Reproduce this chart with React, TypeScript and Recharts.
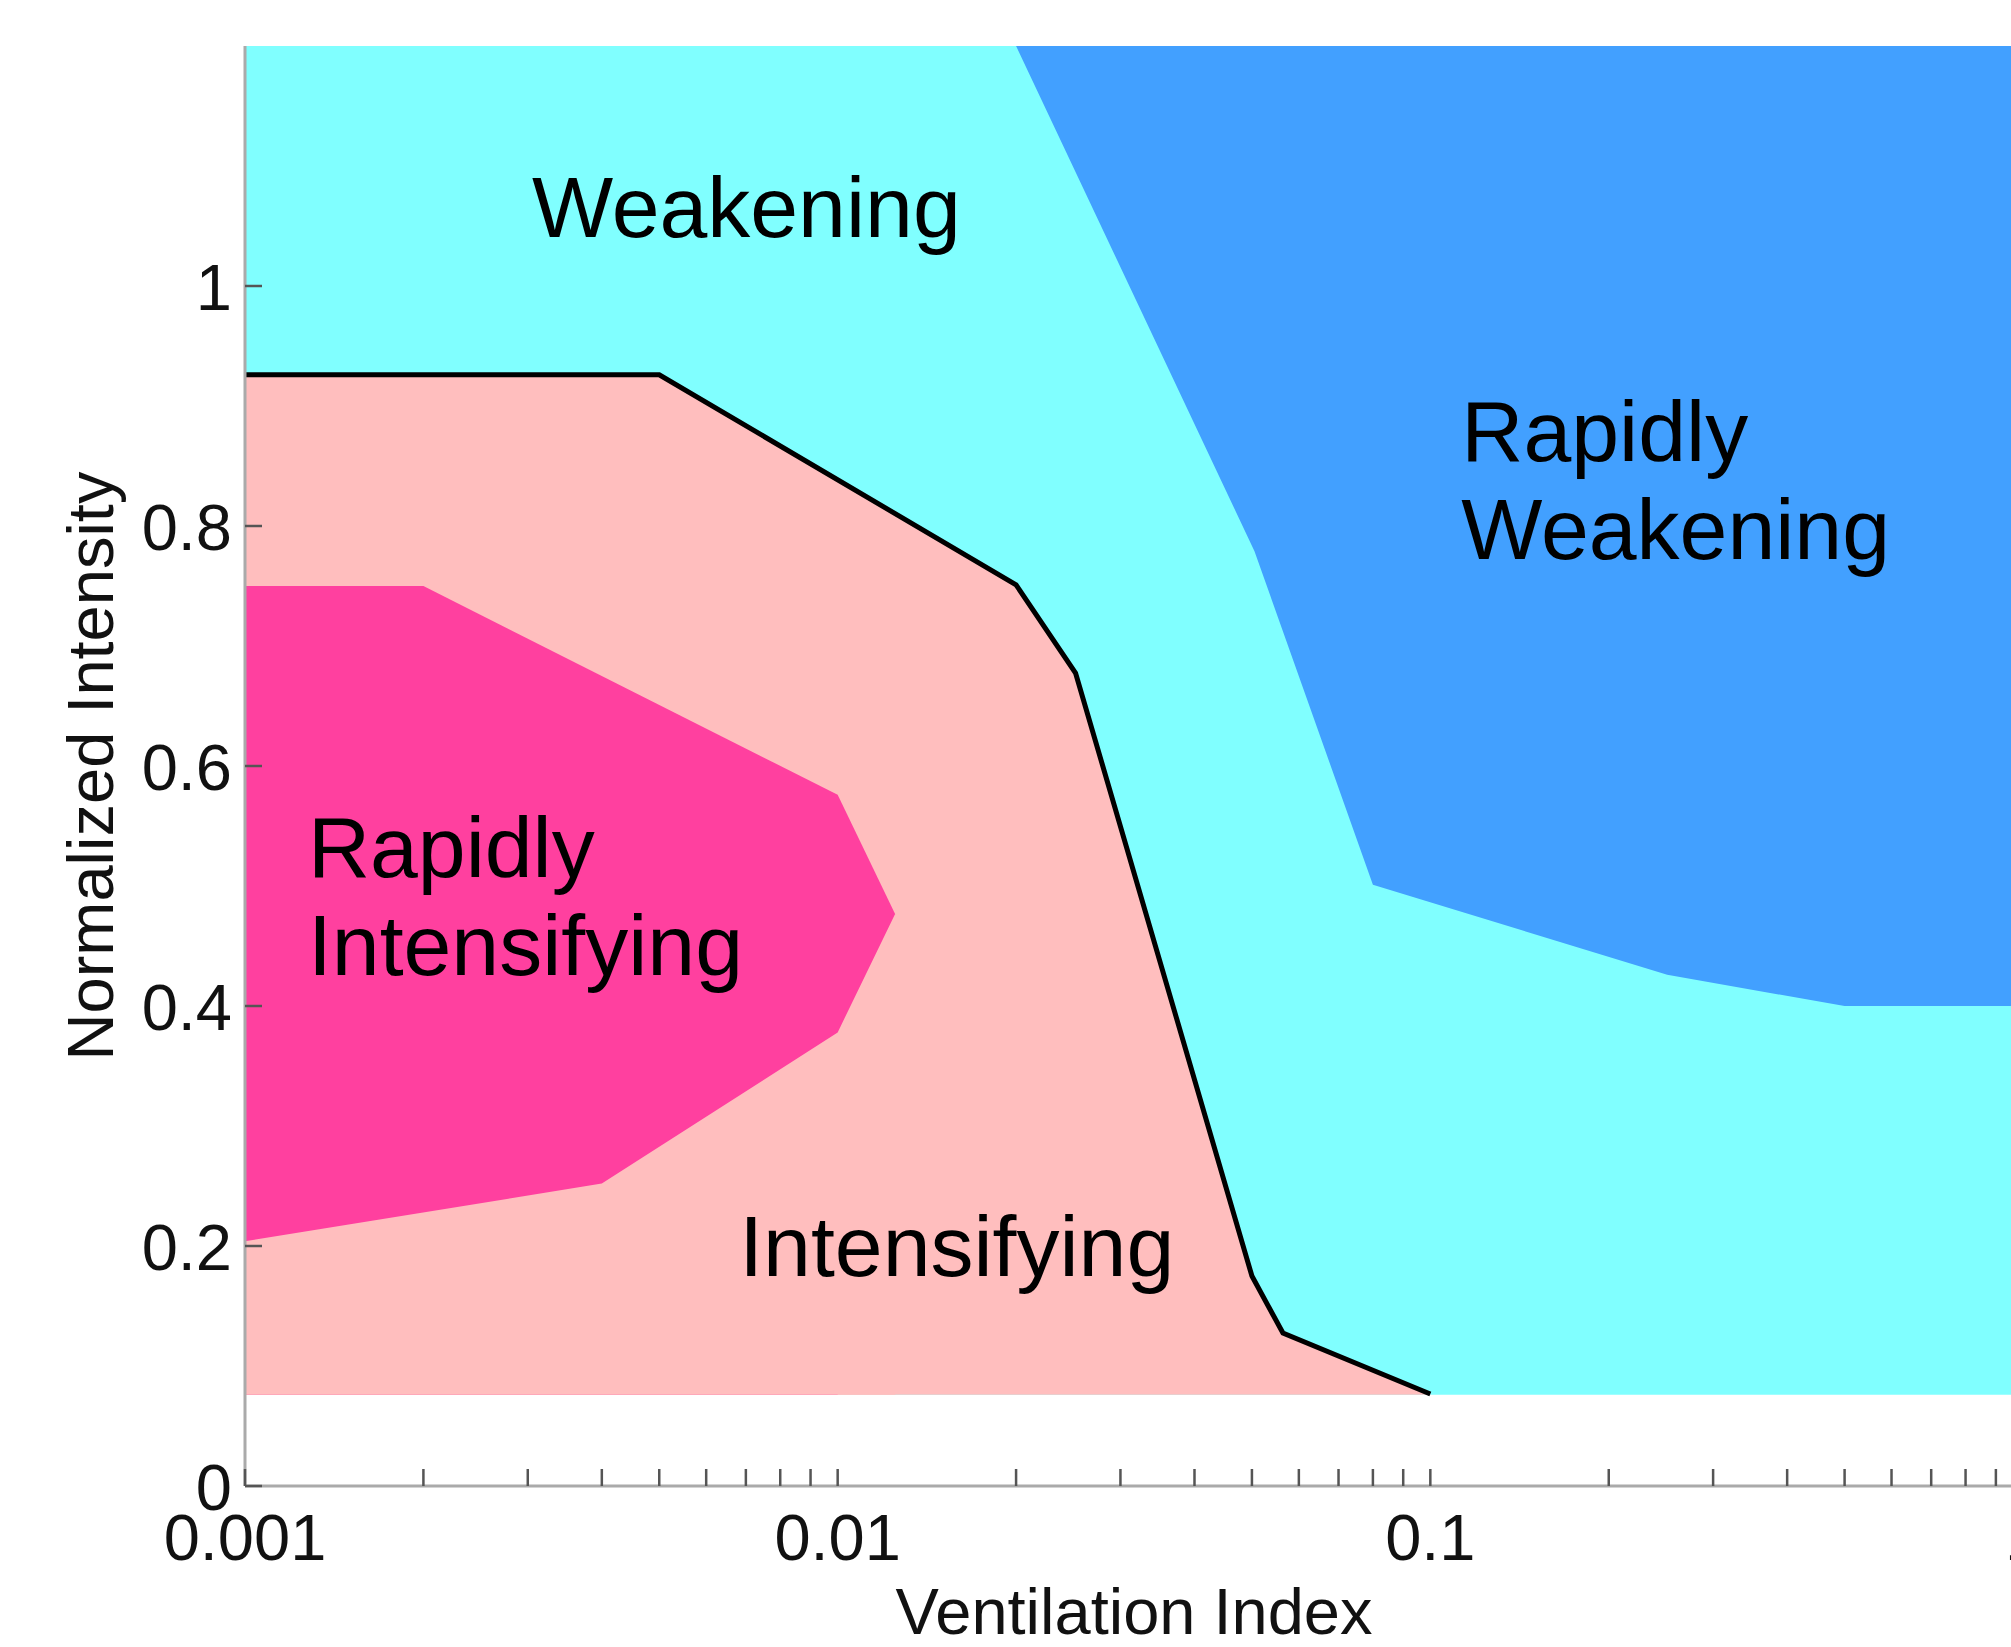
import React from 'react';
import { ComposedChart, Area, Line, Scatter, XAxis, YAxis } from 'recharts';

const FONT = '"Liberation Sans", Arial, Helvetica, sans-serif';

// vertical extent of the shaded regimes
const yFloor = 0.076;
const yCeil = 1.2;

// weakening (background, cyan)
const weakX = [0.001, 1];

// intensifying (pink), top edge is the black boundary
const intensX = [0.001, 0.005, 0.02, 0.0252, 0.05, 0.0564, 0.1];
const intensTop = [0.926, 0.926, 0.751, 0.6775, 0.175, 0.1275, 0.0767];

// rapidly intensifying (magenta): upper edge, lower edge
const rapidIntTopX = [0.001, 0.002, 0.01, 0.0125];
const rapidIntTop = [0.75, 0.75, 0.576, 0.4767];
const rapidIntBotX = [0.001, 0.004, 0.01, 0.0125];
const rapidIntBot = [0.204, 0.252, 0.378, 0.4767];

// rapidly weakening (blue), lower edge
const rapidWeakX = [0.02, 0.0505, 0.08, 0.251, 0.5, 1];
const rapidWeakLow = [1.2, 0.779, 0.501, 0.426, 0.4, 0.4];

// axes
const xTicks = [
  0.001, 0.002, 0.003, 0.004, 0.005, 0.006, 0.007, 0.008, 0.009,
  0.01, 0.02, 0.03, 0.04, 0.05, 0.06, 0.07, 0.08, 0.09,
  0.1, 0.2, 0.3, 0.4, 0.5, 0.6, 0.7, 0.8, 0.9, 1,
];
const xMajor = [0.001, 0.01, 0.1, 1];
const xMajorLabels = ['0.001', '0.01', '0.1', '1'];
const yTicks = [0, 0.2, 0.4, 0.6, 0.8, 1];
const yTickLabels = ['0', '0.2', '0.4', '0.6', '0.8', '1'];

// region names and where they sit
const regionNames = [['Weakening'], ['Rapidly', 'Weakening'], ['Rapidly', 'Intensifying'], ['Intensifying']];
const regionX = [0.00305, 0.1128, 0.001277, 0.006821];
const regionY = [1.041, 0.854, 0.5075, 0.175];

const band = (xs: number[], lo: number[], hi: number[]) =>
  xs.map((x, i) => ({ x, band: [lo[i], hi[i]] }));
const flat = (xs: number[], v: number) => xs.map(() => v);

const weakData = band(weakX, flat(weakX, yFloor), flat(weakX, yCeil));
const intensData = band(intensX, flat(intensX, yFloor), intensTop);
// magenta fill down to the floor (closing at the tip), then pink laid over it below the lower edge
const rapidIntLow = rapidIntTop.map((v, i) => (i === rapidIntTop.length - 1 ? v : yFloor));
const rapidIntData = band(rapidIntTopX, rapidIntLow, rapidIntTop);
const rapidIntCover = band(rapidIntBotX, flat(rapidIntBotX, yFloor), rapidIntBot);
const rapidWeakData = band(rapidWeakX, rapidWeakLow, flat(rapidWeakX, yCeil));
const boundaryData = intensX.map((x, i) => ({ x, top: intensTop[i] }));
const labelData = regionNames.map((lines, i) => ({ x: regionX[i], y: regionY[i], lines }));

const XTick = (props: any) => {
  const { x, y, payload } = props;
  const idx = xMajor.indexOf(payload.value);
  return (
    <g>
      <line x1={x} x2={x} y1={y} y2={y - 17} stroke="#555" strokeWidth={2.5} />
      {idx >= 0 && (
        <text x={x} y={y + 74} textAnchor="middle" fontSize={65} fontFamily={FONT} fill="#111">
          {xMajorLabels[idx]}
        </text>
      )}
    </g>
  );
};

const YTick = (props: any) => {
  const { x, y, payload } = props;
  const idx = yTicks.indexOf(payload.value);
  return (
    <g>
      <line x1={x} x2={x + 17} y1={y} y2={y} stroke="#555" strokeWidth={2.5} />
      <text x={x - 13} y={y + 24} textAnchor="end" fontSize={65} fontFamily={FONT} fill="#111">
        {yTickLabels[idx]}
      </text>
    </g>
  );
};

const RegionLabel = (props: any) => {
  const { cx, cy, payload } = props;
  return (
    <text x={cx} y={cy} fontSize={86} fontFamily={FONT} fill="#000">
      {payload.lines.map((t: string, i: number) => (
        <tspan key={i} x={cx} dy={i === 0 ? 0 : 98}>{t}</tspan>
      ))}
    </text>
  );
};

const XLabel = (props: any) => {
  const { viewBox } = props;
  return (
    <text x={viewBox.x + viewBox.width / 2} y={1634} textAnchor="middle" fontSize={65} fontFamily={FONT} fill="#111">
      Ventilation Index
    </text>
  );
};

const YLabel = (props: any) => {
  const { viewBox } = props;
  const cy = viewBox.y + viewBox.height / 2;
  return (
    <text x={113} y={cy} transform={`rotate(-90, 113, ${cy})`} textAnchor="middle" fontSize={65} fontFamily={FONT} fill="#111">
      Normalized Intensity
    </text>
  );
};

export default function App() {
  return (
    <div style={{ position: 'fixed', left: 0, top: 0, width: 2011, height: 1647, overflow: 'hidden', background: '#fff' }}>
      <ComposedChart width={2040} height={1647} margin={{ top: 46, right: 17, bottom: 0, left: 0 }}>
        <Area data={weakData} dataKey="band" type="linear" stroke="none" fill="#80ffff" fillOpacity={1} dot={false} activeDot={false} isAnimationActive={false} />
        <Area data={intensData} dataKey="band" type="linear" stroke="none" fill="#ffbebe" fillOpacity={1} dot={false} activeDot={false} isAnimationActive={false} />
        <Area data={rapidIntData} dataKey="band" type="linear" stroke="none" fill="#ff409f" fillOpacity={1} dot={false} activeDot={false} isAnimationActive={false} />
        <Area data={rapidIntCover} dataKey="band" type="linear" stroke="none" fill="#ffbebe" fillOpacity={1} dot={false} activeDot={false} isAnimationActive={false} />
        <Area data={rapidWeakData} dataKey="band" type="linear" stroke="none" fill="#42a0ff" fillOpacity={1} dot={false} activeDot={false} isAnimationActive={false} />
        <Line data={boundaryData} dataKey="top" type="linear" stroke="#000" strokeWidth={5} dot={false} activeDot={false} isAnimationActive={false} />
        <Scatter data={labelData} dataKey="y" shape={RegionLabel} isAnimationActive={false} />
        <XAxis
          dataKey="x"
          type="number"
          scale="log"
          domain={[0.001, 1]}
          allowDataOverflow
          ticks={xTicks}
          interval={0}
          height={161}
          tickSize={0}
          tickMargin={0}
          tickLine={false}
          tick={XTick}
          axisLine={{ stroke: '#aaa', strokeWidth: 3 }}
          label={{ content: XLabel }}
        />
        <YAxis
          dataKey="y"
          type="number"
          domain={[0, 1.2]}
          allowDataOverflow
          ticks={yTicks}
          interval={0}
          width={245}
          tickSize={0}
          tickMargin={0}
          tickLine={false}
          tick={YTick}
          axisLine={{ stroke: '#aaa', strokeWidth: 3 }}
          label={{ content: YLabel }}
        />
      </ComposedChart>
    </div>
  );
}
